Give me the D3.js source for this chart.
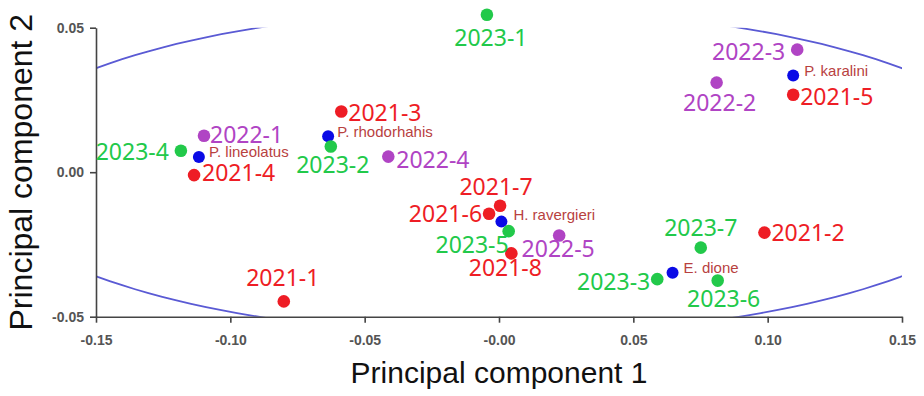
<!DOCTYPE html>
<html lang="en">
<head>
<meta charset="UTF-8">
<title>PCA</title>
<style>
    body { margin: 0; background: #fff; }
    .axis path, .axis line { stroke: #444; stroke-width: 1.6px; }
    .axis text {
        font-family: "Liberation Sans", Arial, sans-serif;
        font-size: 14px;
        font-weight: bold;
        fill: #555;
    }
    .title { font-family: "Liberation Sans", Arial, sans-serif; fill: #111; }
    .sample { font-family: "Noto Sans", sans-serif; font-size: 23px; }
    .species { font-family: "Liberation Sans", Arial, sans-serif; font-size: 15px; fill: #b8413f; }
</style>
</head>
<body>
<script src="https://d3js.org/d3.v7.min.js"></script>
<script>
    // samples (year-number)
    let sampleNames = ['2021-1','2021-2','2021-3','2021-4','2021-5','2021-6','2021-7','2021-8',
                       '2022-1','2022-2','2022-3','2022-4','2022-5',
                       '2023-1','2023-2','2023-3','2023-4','2023-5','2023-6','2023-7']
    let sampleX = [-0.0801, 0.0988, -0.0587, -0.1135, 0.1095, -0.0037, 0.0004, 0.0046,
                   -0.1098, 0.0810, 0.1110, -0.0412, 0.0224,
                   -0.0045, -0.0626, 0.0589, -0.1184, 0.0036, 0.0814, 0.0751]
    let sampleY = [-0.0447, -0.0209, 0.0210, -0.0010, 0.0268, -0.0144, -0.0116, -0.0281,
                   0.0126, 0.0310, 0.0424, 0.0054, -0.0219,
                   0.0545, 0.0089, -0.0370, 0.0074, -0.0204, -0.0375, -0.0261]

    // species
    let speciesNames = ['P. lineolatus', 'P. rhodorhahis', 'P. karalini', 'H. ravergieri', 'E. dione']
    let speciesX = [-0.1117, -0.0636, 0.1095, 0.0009, 0.0646]
    let speciesY = [0.0053, 0.0124, 0.0335, -0.0171, -0.0348]

    // confidence ellipse (centre, radii)
    let ellipseCenter = [0, 0]
    let ellipseRadii = [0.195, 0.0563]

    let xTicks = [-0.15, -0.10, -0.05, 0, 0.05, 0.10, 0.15]
    let xTickLabels = ['-0.15', '-0.10', '-0.05', '-0.00', '0.05', '0.10', '0.15']
    let yTicks = [-0.05, 0, 0.05]
    let yTickLabels = ['-0.05', '0.00', '0.05']

    let colors = { '2021': '#ee1d25', '2022': '#b044c4', '2023': '#22c94a' }

    // label placement: dx, dy (baseline), anchor
    let labelPlace = {
        '2021-1': [-1, -15, 'middle'], '2021-2': [7, 8, 'start'], '2021-3': [7, 9, 'start'],
        '2021-4': [8, 6, 'start'], '2021-5': [7, 10, 'start'], '2021-6': [-7, 8, 'end'],
        '2021-7': [-4, -11, 'middle'], '2021-8': [-6, 23, 'middle'],
        '2022-1': [6, 7, 'start'], '2022-2': [3, 28, 'middle'], '2022-3': [-12, 10, 'end'],
        '2022-4': [8, 11, 'start'], '2022-5': [-1, 22, 'middle'],
        '2023-1': [4, 31, 'middle'], '2023-2': [2, 27, 'middle'], '2023-3': [-7, 11, 'end'],
        '2023-4': [-12, 9, 'end'], '2023-5': [0, 22, 'end'], '2023-6': [6, 26, 'middle'],
        '2023-7': [0, -12, 'middle'],
        'P. lineolatus': [10, 0], 'P. rhodorhahis': [9, 1], 'P. karalini': [11, 1],
        'H. ravergieri': [12, -2], 'E. dione': [11, 0]
    }

    let width = 924, height = 396
    let margin = { top: 27.7, right: 22, bottom: 79.3, left: 96 }

    let svg = d3.select('body').append('svg')
        .attr('width', width)
        .attr('height', height)

    let x = d3.scaleLinear().domain([-0.15, 0.15]).range([margin.left, width - margin.right])
    let y = d3.scaleLinear().domain([-0.05, 0.05]).range([height - margin.bottom, margin.top])

    svg.append('clipPath').attr('id', 'plotclip')
        .append('rect')
        .attr('x', x(-0.15)).attr('y', y(0.05))
        .attr('width', x(0.15) - x(-0.15))
        .attr('height', y(-0.05) - y(0.05))

    // ellipse
    let ellPts = d3.range(0, 361, 2).map(a => {
        let t = a * Math.PI / 180
        return [ellipseCenter[0] + ellipseRadii[0] * Math.cos(t), ellipseCenter[1] + ellipseRadii[1] * Math.sin(t)]
    })
    svg.append('path')
        .attr('clip-path', 'url(#plotclip)')
        .attr('d', d3.line().x(d => x(d[0])).y(d => y(d[1]))(ellPts))
        .attr('fill', 'none')
        .attr('stroke', '#5a5ad4')
        .attr('stroke-width', 1.8)

    // axes
    svg.append('g')
        .attr('class', 'axis')
        .attr('transform', 'translate(0,' + y(-0.05) + ')')
        .call(d3.axisBottom(x).tickValues(xTicks).tickSizeOuter(0).tickPadding(12)
            .tickFormat((d, i) => xTickLabels[i]))
    svg.append('g')
        .attr('class', 'axis')
        .attr('transform', 'translate(' + x(-0.15) + ',0)')
        .call(d3.axisLeft(y).tickValues(yTicks).tickSizeOuter(0).tickPadding(6)
            .tickFormat((d, i) => yTickLabels[i]))

    svg.append('text')
        .attr('class', 'title')
        .attr('x', x(0))
        .attr('y', 383)
        .attr('text-anchor', 'middle')
        .style('font-size', '30px')
        .text('Principal component 1')
    svg.append('text')
        .attr('class', 'title')
        .attr('transform', 'translate(32,' + y(0) + ') rotate(-90)')
        .attr('text-anchor', 'middle')
        .style('font-size', '32px')
        .text('Principal component 2')

    // species points
    let species = speciesNames.map((n, i) => ({ name: n, x: speciesX[i], y: speciesY[i] }))
    let sp = svg.selectAll('.sp').data(species).enter().append('g').attr('class', 'sp')
    sp.append('circle')
        .attr('cx', d => x(d.x)).attr('cy', d => y(d.y))
        .attr('r', 6)
        .attr('fill', '#0a0ae6')
    sp.append('text')
        .attr('class', 'species')
        .attr('x', d => x(d.x) + labelPlace[d.name][0])
        .attr('y', d => y(d.y) + labelPlace[d.name][1])
        .text(d => d.name)

    // sample points
    let samples = sampleNames.map((n, i) => ({ name: n, year: n.split('-')[0], x: sampleX[i], y: sampleY[i] }))
    let sm = svg.selectAll('.sm').data(samples).enter().append('g').attr('class', 'sm')
    sm.append('circle')
        .attr('cx', d => x(d.x)).attr('cy', d => y(d.y))
        .attr('r', 6.3)
        .attr('fill', d => colors[d.year])
    sm.append('text')
        .attr('class', 'sample')
        .attr('x', d => x(d.x) + labelPlace[d.name][0])
        .attr('y', d => y(d.y) + labelPlace[d.name][1])
        .attr('text-anchor', d => labelPlace[d.name][2])
        .attr('fill', d => colors[d.year])
        .text(d => d.name)
</script>
</body>
</html>
